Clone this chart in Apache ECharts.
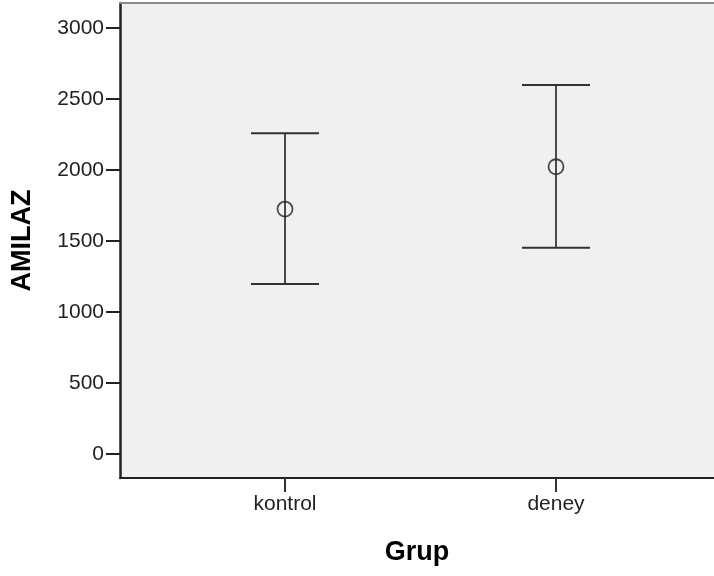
<!DOCTYPE html>
<html>
<head>
<meta charset="utf-8">
<script src="https://cdn.jsdelivr.net/npm/echarts@6/dist/echarts.min.js"></script>
<style>html,body{margin:0;padding:0;background:#fff;}#c{width:714px;height:576px;}</style>
</head>
<body>
<div id="c"></div>
<script>
var categories = ['kontrol', 'deney'];
var means = [1725, 2023];
var lower = [1197, 1453];
var upper = [2258, 2599];
var yTicks = [0, 500, 1000, 1500, 2000, 2500, 3000];
var xPositions = [1, 2];

var chart = echarts.init(document.getElementById('c'), null, {renderer: 'canvas'});
var barData = xPositions.map(function (x, i) { return [x, lower[i], upper[i]]; });
var meanData = xPositions.map(function (x, i) { return [x, means[i]]; });
var font = 'Liberation Sans, Arial, sans-serif';

chart.setOption({
  animation: false,
  grid: {left: 120, top: 3, right: 0, bottom: 98, show: true, backgroundColor: '#f0f0f0', borderWidth: 0},
  xAxis: [{
    type: 'value', min: 0.3911, max: 2.583,
    name: 'Grup', nameLocation: 'middle', nameGap: 61,
    nameTextStyle: {fontFamily: font, fontWeight: 'bold', fontSize: 27, color: '#000'},
    axisLine: {show: true, onZero: false, lineStyle: {color: '#222', width: 2}},
    axisTick: {show: true, inside: false, length: 14, customValues: xPositions, lineStyle: {color: '#333', width: 2}},
    axisLabel: {customValues: xPositions, margin: 16, fontFamily: font, fontSize: 21, color: '#222',
      formatter: function (v) { return categories[Math.round(v) - 1] || ''; }},
    splitLine: {show: false}
  }, {
    type: 'value', position: 'top', min: 0.3911, max: 2.583,
    axisLine: {show: true, onZero: false, lineStyle: {color: '#8a8a8a', width: 2}},
    axisTick: {show: false}, axisLabel: {show: false}, splitLine: {show: false}
  }],
  yAxis: {
    type: 'value', min: -169, max: 3176,
    name: 'AMILAZ', nameLocation: 'middle', nameGap: 84,
    nameTextStyle: {fontFamily: font, fontWeight: 'bold', fontSize: 27, color: '#000'},
    axisLine: {show: true, onZero: false, lineStyle: {color: '#222', width: 2.5}},
    axisTick: {show: true, length: 14, customValues: yTicks, lineStyle: {color: '#222', width: 2}},
    axisLabel: {customValues: yTicks, margin: 16, fontFamily: font, fontSize: 21, color: '#222',
      formatter: function (v) { return String(v); }},
    splitLine: {show: false}
  },
  series: [
    {
      type: 'custom',
      data: barData,
      renderItem: function (params, api) {
        var x = api.value(0);
        var lo = api.coord([x, api.value(1)]);
        var hi = api.coord([x, api.value(2)]);
        var half = 34;
        var vStyle = {stroke: '#222', lineWidth: 1.6};
        var cStyle = {stroke: '#333', lineWidth: 2};
        return {type: 'group', children: [
          {type: 'line', shape: {x1: lo[0], y1: lo[1], x2: hi[0], y2: hi[1]}, style: vStyle},
          {type: 'line', shape: {x1: hi[0] - half, y1: hi[1], x2: hi[0] + half, y2: hi[1]}, style: cStyle},
          {type: 'line', shape: {x1: lo[0] - half, y1: lo[1], x2: lo[0] + half, y2: lo[1]}, style: cStyle}
        ]};
      },
      z: 2
    },
    {
      type: 'scatter',
      data: meanData,
      symbol: 'circle', symbolSize: 15,
      itemStyle: {color: 'rgba(0,0,0,0)', borderColor: '#222', borderWidth: 1.8},
      z: 3
    }
  ]
});
</script>
</body>
</html>
